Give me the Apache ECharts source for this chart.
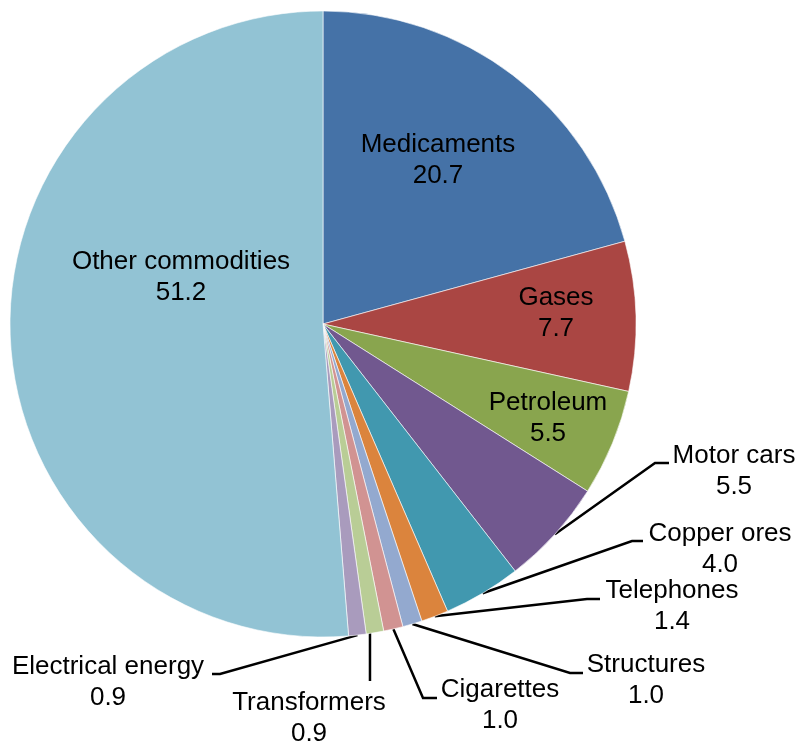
<!DOCTYPE html>
<html>
<head>
<meta charset="utf-8">
<script src="https://cdn.jsdelivr.net/npm/echarts@6/dist/echarts.min.js"></script>
<style>html,body{margin:0;padding:0;background:#fff}#c{width:801px;height:744px}</style>
</head>
<body>
<div id="c"></div>
<script>
const categories = ['Medicaments','Gases','Petroleum','Motor cars','Copper ores','Telephones','Structures','Cigarettes','Transformers','Electrical energy','Other commodities'];
const values = [20.7, 7.7, 5.5, 5.5, 4.0, 1.4, 1.0, 1.0, 0.9, 0.9, 51.2];
const colors = ['#4572A7','#AA4643','#89A54E','#71588F','#4198AF','#DB843D','#93A9CF','#D19392','#B9CD96','#A99BBD','#92C3D4'];
const insideLabels = ['Medicaments','Gases','Petroleum','Other commodities'];

// label placement (layout only)
const labelPos = {
  'Medicaments': {x:438, y:160},
  'Gases': {x:556, y:313},
  'Petroleum': {x:548, y:418},
  'Other commodities': {x:181, y:277},
  'Motor cars': {x:734, y:471, elbow:[655,463], end:[669,463]},
  'Copper ores': {x:720, y:549, elbow:[632,541], end:[643,541]},
  'Telephones': {x:672, y:606, elbow:[587,599], end:[600,599]},
  'Structures': {x:646, y:680, elbow:[570,673], end:[583,673]},
  'Cigarettes': {x:500, y:705, elbow:[423,698], end:[437,698]},
  'Transformers': {x:309, y:718, vertical:true, endY:681},
  'Electrical energy': {x:108, y:682, elbow:[220,674], end:[212,674]}
};

const data = categories.map((n, i) => ({
  name: n,
  value: values[i],
  itemStyle: {color: colors[i]},
  label: {position: insideLabels.includes(n) ? 'inside' : 'outside'},
  labelLine: {show: !insideLabels.includes(n)}
}));

const chart = echarts.init(document.getElementById('c'), null, {renderer:'canvas'});
chart.setOption({
  animation: false,
  backgroundColor: '#fff',
  series: [{
    type: 'pie',
    center: [323, 324],
    radius: 313,
    startAngle: 90,
    clockwise: true,
    avoidLabelOverlap: false,
    data: data,
    itemStyle: {borderColor: '#fff', borderWidth: 0.6},
    label: {
      show: true,
      color: '#000',
      fontFamily: 'Liberation Sans, Arial, sans-serif',
      fontSize: 26,
      lineHeight: 31,
      align: 'center',
      formatter: p => p.name + '\n' + p.value.toFixed(1)
    },
    labelLine: {show: true, length: 20, length2: 10, lineStyle: {color: '#000', width: 2.5}},
    emphasis: {disabled: true},
    labelLayout: function (params) {
      const name = categories[params.dataIndex];
      const pos = labelPos[name];
      const res = {x: pos.x, y: pos.y, align: 'center', verticalAlign: 'middle'};
      if (params.labelLinePoints && (pos.elbow || pos.vertical)) {
        const start = params.labelLinePoints[0];
        if (pos.vertical) {
          const sx = start[0] - 5;
          res.labelLinePoints = [[sx, start[1]], [sx, (start[1] + pos.endY) / 2], [sx, pos.endY]];
        } else {
          res.labelLinePoints = [start, pos.elbow, pos.end];
        }
      }
      return res;
    }
  }]
});
</script>
</body>
</html>
